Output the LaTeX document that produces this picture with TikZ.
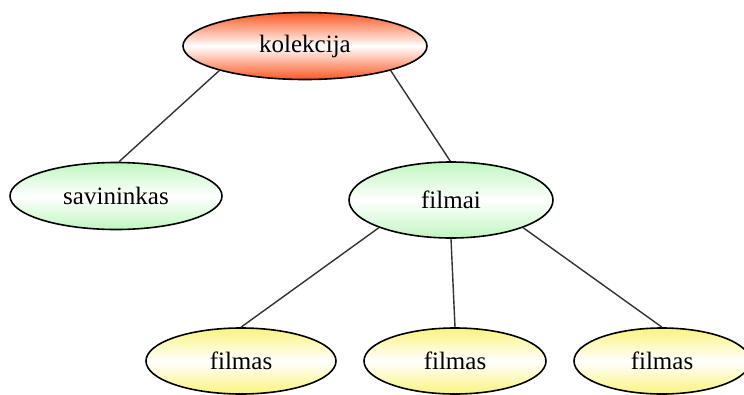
\documentclass[tikz,border=0pt]{standalone}
\usepackage{fontspec}
\setmainfont{Liberation Serif}
\usetikzlibrary{shapes.geometric}
\definecolor{rootred}{RGB}{250,88,35}
\definecolor{midgreen}{RGB}{192,246,192}
\definecolor{leafyellow}{RGB}{250,244,125}
\definecolor{edgegray}{RGB}{50,50,50}
\tikzset{
  blob/.style={ellipse, draw=black, line width=1.6pt, inner sep=0pt,
    font=\rmfamily\fontsize{25}{28}\selectfont},
  rootblob/.style={blob, top color=rootred, bottom color=rootred,
    middle color=white, minimum width=244pt, minimum height=67pt},
  midblob/.style={blob, top color=midgreen, bottom color=midgreen,
    middle color=white},
  leafblob/.style={blob, top color=leafyellow, bottom color=leafyellow,
    middle color=white, minimum width=182pt, minimum height=66pt},
  link/.style={draw=edgegray, line width=1.4pt}
}
\begin{document}
\begin{tikzpicture}[x=1pt,y=-1pt]
\useasboundingbox (0,0) rectangle (744,394);
\clip (0,0) rectangle (744,394);
\fill[white] (0,0) rectangle (744,394);

\node[rootblob] (kol) at (305,46) {kolekcija};
\node[midblob, minimum width=212pt, minimum height=67pt] (sav) at (116,196) {savininkas};
\node[midblob, minimum width=204pt, minimum height=76pt] (fil) at (451,200) {filmai};
\node[leafblob, minimum width=190pt] (f1) at (241,361) {filmas};
\node[leafblob] (f2) at (455,361) {filmas};
\node[leafblob, minimum width=176pt] (f3) at (662,361) {filmas};

\draw[link] (kol.196) -- (sav.85);
\draw[link] (kol.-16) -- (fil.91);
\draw[link] (fil.201) -- (f1.90);
\draw[link] (fil.270) -- (f2.90);
\draw[link] (fil.-21) -- (f3.90);
\end{tikzpicture}
\end{document}
